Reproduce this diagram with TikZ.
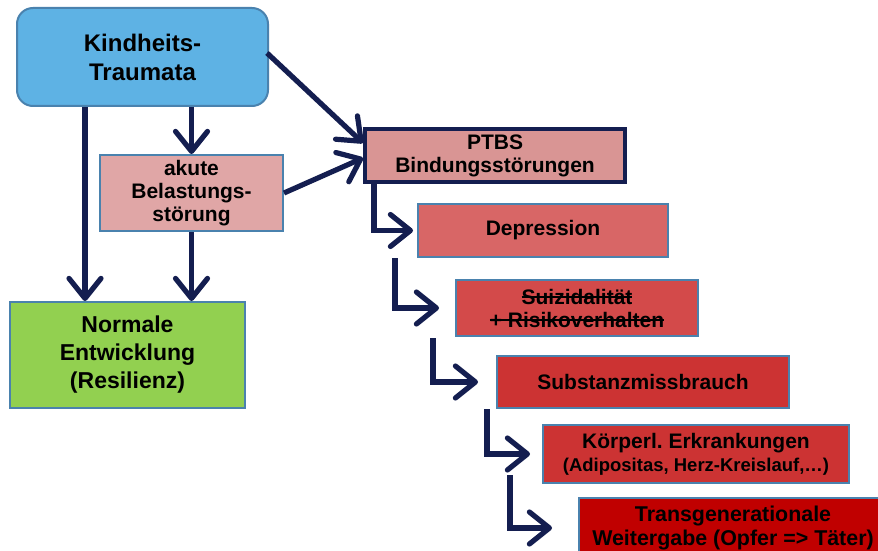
\documentclass[tikz,border=0pt]{standalone}
\usepackage{fontspec}
\setmainfont{Liberation Sans}
\usepackage{tikz}
\usetikzlibrary{arrows.meta}
\frenchspacing

\newcommand\strikeout[1]{\setbox0\hbox{#1}\rlap{\rule[0.3em]{\wd0}{0.1em}}\box0}

\definecolor{navy}{HTML}{141E50}
\definecolor{rim}{HTML}{4A82AE}
\definecolor{skyfill}{HTML}{5EB2E4}
\definecolor{rosefill}{HTML}{E0A6A6}
\definecolor{greenfill}{HTML}{92D050}
\definecolor{ptbsfill}{HTML}{D99594}
\definecolor{redA}{HTML}{D86666}
\definecolor{redB}{HTML}{D34A4A}
\definecolor{redC}{HTML}{CC3333}
\definecolor{redD}{HTML}{C00000}

\begin{document}
\begin{tikzpicture}[x=0.5pt, y=-0.5pt,
    box/.style={draw=rim, line width=1pt, align=center, inner sep=0pt,
        font={\bfseries}},
    link/.style={draw=navy, line width=2.6pt,
        -{Straight Barb[length=10pt,width=16pt,line cap=round,line join=round]}}]
    \useasboundingbox (0,0) rectangle (878,551);
    \clip (0,0) rectangle (878,551);

    % left part
    \node[box, fill=skyfill, rounded corners=8pt, minimum width=125.5pt, minimum height=49pt,
        font={\bfseries\fontsize{12}{14.5}\selectfont}] (trauma) at (142.5, 57) {Kindheits-\\Traumata};
    \node[box, fill=rosefill, minimum width=91.5pt, minimum height=38pt,
        font={\bfseries\fontsize{10.5}{11.5}\selectfont}] (akut) at (191.5, 193) {akute\\Belastungs-\\störung};
    \node[box, fill=greenfill, minimum width=117.5pt, minimum height=53pt,
        font={\bfseries\fontsize{11.5}{14}\selectfont}] (normal) at (127.5, 355) {Normale\\Entwicklung\\(Resilienz)};

    % cascade
    \node[box, draw=navy, line width=2pt, fill=ptbsfill, minimum width=130pt, minimum height=26.5pt,
        font={\bfseries\fontsize{10.5}{11.5}\selectfont}] (ptbs) at (495, 155.5) {PTBS\\Bindungsstörungen};
    \node[box, fill=redA, minimum width=125pt, minimum height=26.5pt,
        font={\bfseries\fontsize{10.5}{12}\selectfont}] (depr) at (543, 230.5) {Depression};
    \node[box, fill=redB, minimum width=121pt, minimum height=28pt,
        font={\bfseries\fontsize{10.5}{11.5}\selectfont}] (suiz) at (577, 308) {\strikeout{Suizidalität}\\\strikeout{+ Risikoverhalten}};
    \node[box, fill=redC, minimum width=146pt, minimum height=26pt,
        font={\bfseries\fontsize{10.5}{12}\selectfont}] (subst) at (643, 382) {Substanzmissbrauch};
    \node[box, fill=redC, minimum width=153pt, minimum height=29pt,
        font={\bfseries\fontsize{10.5}{11.5}\selectfont}] (koerp) at (696, 454) {Körperl. Erkrankungen\\{\fontsize{9.25}{10}\selectfont(Adipositas, Herz-Kreislauf,…)}};
    \node[box, fill=redD, minimum width=154pt, minimum height=30pt,
        font={\bfseries\fontsize{10.7}{12}\selectfont}] (trans) at (733, 528) {Transgenerationale\\Weitergabe (Opfer => Täter)};

    % free ends of the steps
    \coordinate (s1) at (395, 258);
    \coordinate (s2) at (433, 338);
    \coordinate (s3) at (487, 409);
    \coordinate (s4) at (510, 475);

    \draw[link] (trauma.south -| 85,0) -- (normal.north -| 85,0);
    \draw[link] (trauma.south -| akut.north) -- (akut.north);
    \draw[link] (akut.south) -- (normal.north -| akut.south);
    \draw[link] (267,53) -- (ptbs.north west |- 0,143);
    \draw[link] (akut.east) -- (ptbs.west |- 0,158);
    \draw[link, shorten >=2pt] (ptbs.south west -| 374,0) |- (depr.west);
    \draw[link, shorten >=8pt] (s1) |- (suiz.west);
    \draw[link, shorten >=9pt] (s2) |- (subst.west);
    \draw[link, shorten >=6pt] (s3) |- (koerp.west);
    \draw[link, shorten >=13pt] (s4) |- (trans.west);
\end{tikzpicture}
\end{document}
